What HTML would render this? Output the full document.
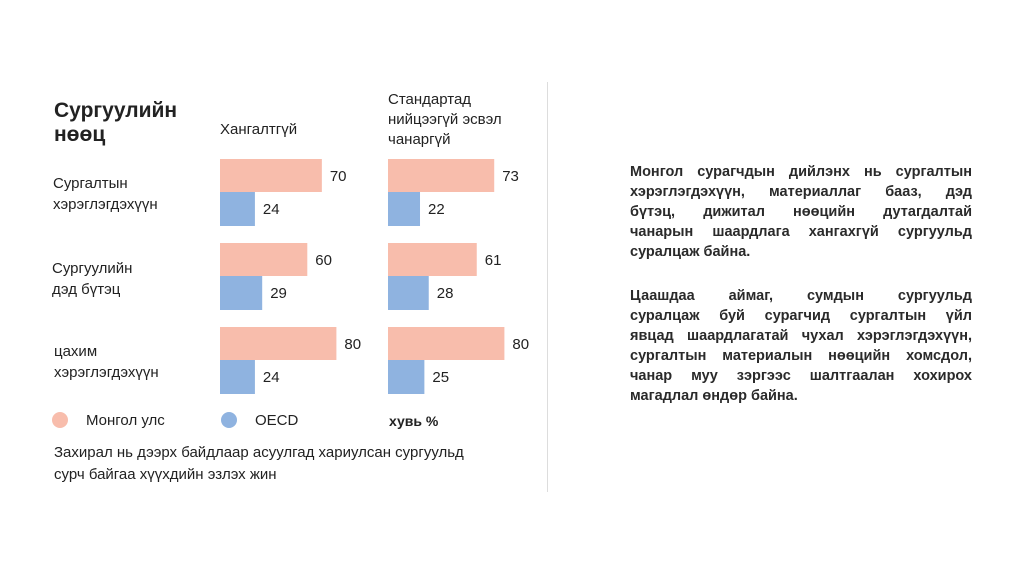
<!DOCTYPE html>
<html><head><meta charset="utf-8">
<style>
body{margin:0;width:1024px;height:576px;background:#fff;font-family:"Liberation Sans",sans-serif;color:#222;position:relative;overflow:hidden}
.t{position:absolute;white-space:nowrap}
.p{position:absolute;left:630px;width:342px;font-size:14.5px;font-weight:bold;color:#2a2a2a}
.p div{height:20px;line-height:20px;text-align:justify;text-align-last:justify;white-space:nowrap}
.p div.l{text-align-last:left}
</style></head><body>
<div class="t" style="left:54px;top:99px;font-size:21px;font-weight:bold;line-height:24px">Сургуулийн<br>нөөц</div>
<div class="t" style="left:220px;top:121px;font-size:15px">Хангалтгүй</div>
<div class="t" style="left:388px;top:90px;font-size:15px;line-height:20px">Стандартад<br>нийцээгүй эсвэл<br>чанаргүй</div>
<div class="t" style="left:53px;top:173px;font-size:15px;line-height:21px">Сургалтын<br>хэрэглэгдэхүүн</div>
<div class="t" style="left:52px;top:258px;font-size:15px;line-height:21px">Сургуулийн<br>дэд бүтэц</div>
<div class="t" style="left:54px;top:341px;font-size:15px;line-height:21px">цахим<br>хэрэглэгдэхүүн</div>
<svg id="chart" width="1024" height="576" style="position:absolute;left:0;top:0"></svg>
<div class="t" style="left:52px;top:412px;font-size:15px"><span style="display:inline-block;width:16px;height:16px;border-radius:50%;background:#f8bdac;vertical-align:-3px;margin-right:18px"></span>Монгол улс</div>
<div class="t" style="left:221px;top:412px;font-size:15px"><span style="display:inline-block;width:16px;height:16px;border-radius:50%;background:#8fb3e0;vertical-align:-3px;margin-right:18px"></span>OECD</div>
<div class="t" style="left:389px;top:413px;font-size:14px;font-weight:bold">хувь %</div>
<div class="t" style="left:54px;top:442px;font-size:15px;line-height:22px;font-weight:500">Захирал нь дээрх байдлаар асуулгад хариулсан сургуульд<br>сурч байгаа хүүхдийн эзлэх жин</div>
<div style="position:absolute;left:547px;top:82px;width:1px;height:410px;background:#ddd"></div>
<div class="p" style="top:162px">
<div>Монгол сурагчдын дийлэнх нь сургалтын</div>
<div>хэрэглэгдэхүүн, материаллаг бааз, дэд</div>
<div>бүтэц, дижитал нөөцийн дутагдалтай</div>
<div>чанарын шаардлага хангахгүй сургуульд</div>
<div class="l">суралцаж байна.</div>
</div>
<div class="p" style="top:286px">
<div>Цаашдаа аймаг, сумдын сургуульд</div>
<div>суралцаж буй сурагчид сургалтын үйл</div>
<div>явцад шаардлагатай чухал хэрэглэгдэхүүн,</div>
<div>сургалтын материалын нөөцийн хомсдол,</div>
<div>чанар муу зэргээс шалтгаалан хохирох</div>
<div class="l">магадлал өндөр байна.</div>
</div>
<script>
const categories=["Сургалтын хэрэглэгдэхүүн","Сургуулийн дэд бүтэц","цахим хэрэглэгдэхүүн"];
const panels=["Хангалтгүй","Стандартад нийцээгүй эсвэл чанаргүй"];
const mongoliaInsufficient=[70,60,80];
const oecdInsufficient=[24,29,24];
const mongoliaSubstandard=[73,61,80];
const oecdSubstandard=[22,28,25];
const svg=document.getElementById('chart');
const NS='http://www.w3.org/2000/svg';
const panelX=[220,388];
const scale=1.455;
function xLen(v){return v*scale;}
function yBand(i){return 159+i*84;}
const series=[[mongoliaInsufficient,oecdInsufficient],[mongoliaSubstandard,oecdSubstandard]];
const colors=["#f8bdac","#8fb3e0"];
const names=["mongolia","oecd"];
series.forEach((pair,p)=>{
  pair.forEach((vals,s)=>{
    vals.forEach((v,i)=>{
      const y=yBand(i)+s*33;
      const r=document.createElementNS(NS,'rect');
      r.setAttribute('x',panelX[p]);r.setAttribute('y',y);
      r.setAttribute('width',xLen(v));r.setAttribute('height',s?34:33);
      r.setAttribute('fill',colors[s]);
      
      
      svg.appendChild(r);
      const t=document.createElementNS(NS,'text');
      t.setAttribute('x',panelX[p]+xLen(v)+8);t.setAttribute('y',y+22);
      t.setAttribute('font-size','15');t.setAttribute('fill','#222');
      t.setAttribute('font-family','Liberation Sans, sans-serif');
      t.textContent=v;
      
      
      svg.appendChild(t);
    });
  });
});
</script>
</body></html>
